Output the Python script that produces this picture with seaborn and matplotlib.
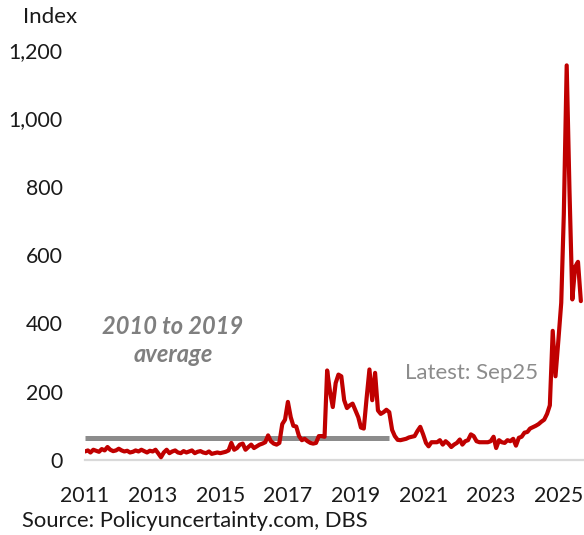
import numpy as np
import pandas as pd
import matplotlib
matplotlib.use("Agg")
import matplotlib.pyplot as plt
import matplotlib.dates as mdates
from matplotlib.ticker import FuncFormatter
import seaborn as sns

# monthly trade policy uncertainty index, Jan 2011 - Sep 2025
months = pd.date_range("2011-01-01", "2025-09-01", freq="MS")
tpu = [
    25, 28, 22, 30, 27, 24, 32, 28, 38, 30, 26, 28,        # 2011
    33, 28, 25, 27, 22, 24, 28, 25, 30, 26, 22, 27,        # 2012
    25, 30, 20, 8, 22, 30, 20, 25, 28, 22, 20, 26,         # 2013
    22, 25, 28, 20, 24, 26, 22, 20, 25, 18, 20, 22,        # 2014
    20, 22, 24, 28, 50, 30, 35, 45, 48, 30, 38, 45,        # 2015
    35, 40, 45, 48, 52, 72, 55, 48, 45, 50, 105, 118,      # 2016
    170, 125, 100, 98, 70, 58, 62, 55, 50, 48, 50, 70,     # 2017
    70, 68, 262, 200, 155, 225, 250, 245, 175, 152, 160, 165,  # 2018
    145, 125, 95, 92, 180, 265, 175, 255, 145, 135, 140, 147,  # 2019
    140, 88, 70, 59, 58, 60, 62, 66, 68, 70, 85, 97,       # 2020
    75, 50, 40, 52, 52, 52, 58, 45, 55, 48, 38, 45,        # 2021
    50, 60, 45, 55, 58, 75, 70, 55, 52, 52, 52, 52,        # 2022
    55, 68, 35, 58, 52, 50, 58, 55, 62, 42, 65, 68,        # 2023
    80, 82, 92, 96, 100, 105, 112, 118, 135, 160, 378, 245,  # 2024
    350, 460, 720, 1155, 790, 470, 565, 580, 465,          # 2025
]
avg_value = 63
avg_period = [pd.Timestamp("2011-01-01"), pd.Timestamp("2019-12-31")]
year_ticks = [2011, 2013, 2015, 2017, 2019, 2021, 2023, 2025]
y_ticks = [0, 200, 400, 600, 800, 1000, 1200]

df = pd.DataFrame({"month": months, "tpu": tpu})
avg_df = pd.DataFrame({"month": avg_period, "avg": [avg_value, avg_value]})

sns.set_style("white")
plt.rcParams["font.family"] = ["Lato", "DejaVu Sans"]

fig = plt.figure(figsize=(5.84, 5.35), dpi=100)
ax = fig.add_axes([85 / 584, 75 / 535, 1 - 85 / 584, 410 / 535])

sns.lineplot(data=avg_df, x="month", y="avg", ax=ax, color="#8c8c8c", lw=3.6,
             solid_capstyle="butt")
sns.lineplot(data=df, x="month", y="tpu", ax=ax, color="#c00000", lw=3.0)

ax.set_xlim(pd.Timestamp("2011-01-01"), pd.Timestamp("2025-10-05"))
ax.set_ylim(0, 1200)
ax.set_xticks([pd.Timestamp(f"{y}-01-01") for y in year_ticks])
ax.xaxis.set_major_formatter(mdates.DateFormatter("%Y"))
ax.set_yticks(y_ticks)
ax.yaxis.set_major_formatter(FuncFormatter(lambda v, p: f"{int(v):,}"))
ax.set_xlabel("")
ax.set_ylabel("")

for s in ["top", "right", "left"]:
    ax.spines[s].set_visible(False)
ax.spines["bottom"].set_color("#d9d9d9")
ax.spines["bottom"].set_linewidth(1.6)
ax.spines["bottom"].set_zorder(0)
ax.tick_params(axis="x", length=6, width=1.5, color="#d9d9d9", pad=12.5,
               labelsize=15.3, labelcolor="#1a1a1a")
ax.tick_params(axis="y", length=0, pad=16, labelsize=15.3, labelcolor="#1a1a1a")

ax.text(pd.Timestamp("2013-08-10"), 350, "2010 to 2019\naverage", fontsize=17,
        fontweight="bold", fontstyle="italic", color="#7f7f7f",
        ha="center", va="center", linespacing=1.3, multialignment="center")
ax.text(pd.Timestamp("2020-06-20"), 255, "Latest: Sep25", fontsize=16,
        color="#8c8c8c", ha="left", va="center")

fig.text(23 / 584, 1 - 17 / 535, "Index", fontsize=16, color="#1a1a1a",
         ha="left", va="center")
fig.text(22 / 584, 1 - 521 / 535, "Source: Policyuncertainty.com, DBS",
         fontsize=15.8, color="#1a1a1a", ha="left", va="center")

fig.savefig("out.png", dpi=100)
